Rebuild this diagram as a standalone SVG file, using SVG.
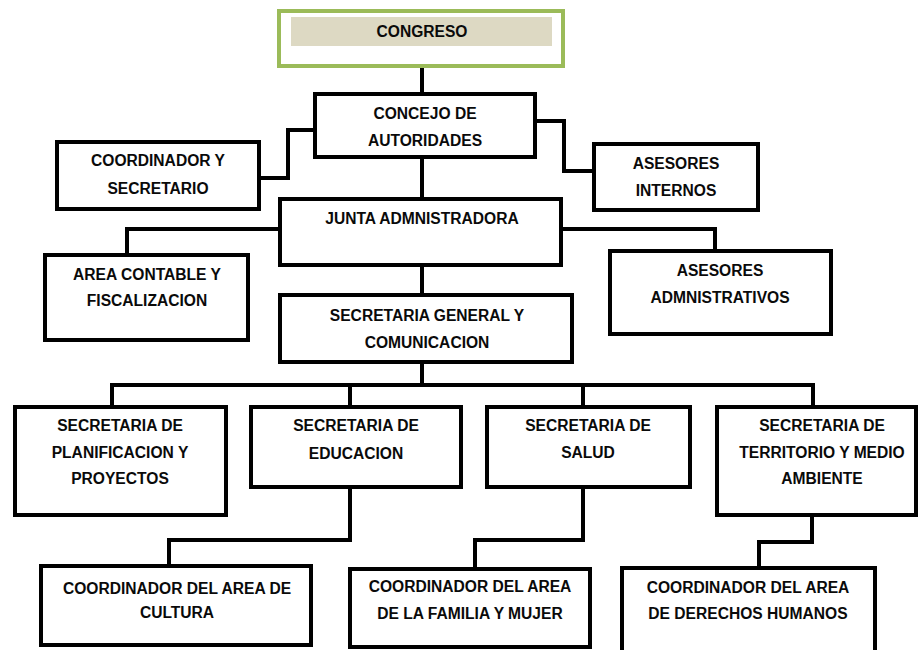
<svg xmlns="http://www.w3.org/2000/svg" width="918" height="650" viewBox="0 0 918 650">
<style>
.box{fill:#fff;stroke:#000;stroke-width:4}
.con{fill:none;stroke:#000;stroke-width:4;stroke-linejoin:miter}
text{font-family:"Liberation Sans",Arial,sans-serif;font-weight:bold;font-size:15.6px;fill:#0a0a0a;text-anchor:middle}
</style>
<rect width="918" height="650" fill="#fff"/>
<g id="connectors">
<path class="con" d="M422 68V94"/>
<path class="con" d="M315 130H288V178H259"/>
<path class="con" d="M535 121H564V171H594" stroke-width="5"/>
<path class="con" d="M422 157V199"/>
<path class="con" d="M280 229H127V255"/>
<path class="con" d="M561 229H715V251"/>
<path class="con" d="M422 265V295"/>
<path class="con" d="M422 362V385"/>
<path class="con" d="M112 407V385H813V407"/>
<path class="con" d="M350 385V407"/>
<path class="con" d="M583 385V407"/>
<path class="con" d="M350 487V540H169V566"/>
<path class="con" d="M583 487V540H475V569"/>
<path class="con" d="M812 515V542H759V568"/>
</g>
<g id="congreso">
<rect x="279" y="11" width="284" height="55" fill="#fff" stroke="#9bbb59" stroke-width="4"/>
<rect x="291" y="17" width="261" height="29" fill="#ddd9c3"/>
<text x="422" y="37">CONGRESO</text>
</g>
<g id="concejo">
<rect class="box" x="315" y="94" width="220" height="63"/>
<text x="425" y="119">CONCEJO DE</text>
<text x="425" y="146">AUTORIDADES</text>
</g>
<g id="coordinador">
<rect class="box" x="57" y="142" width="202" height="67"/>
<text x="158" y="166">COORDINADOR Y</text>
<text x="158" y="194">SECRETARIO</text>
</g>
<g id="asesores-internos">
<rect class="box" x="594" y="144" width="164" height="66"/>
<text x="676" y="169">ASESORES</text>
<text x="676" y="196">INTERNOS</text>
</g>
<g id="junta">
<rect class="box" x="280" y="199" width="281" height="66"/>
<text x="422" y="224">JUNTA ADMNISTRADORA</text>
</g>
<g id="area-contable">
<rect class="box" x="45" y="255" width="203" height="85"/>
<text x="147" y="280">AREA CONTABLE Y</text>
<text x="147" y="306">FISCALIZACION</text>
</g>
<g id="asesores-adm">
<rect class="box" x="610" y="251" width="221" height="83"/>
<text x="720" y="276">ASESORES</text>
<text x="720" y="303">ADMNISTRATIVOS</text>
</g>
<g id="secretaria-general">
<rect class="box" x="280" y="295" width="292" height="67"/>
<text x="427" y="321">SECRETARIA GENERAL Y</text>
<text x="427" y="348">COMUNICACION</text>
</g>
<g id="sec-planificacion">
<rect class="box" x="15" y="407" width="211" height="108"/>
<text x="120" y="431">SECRETARIA DE</text>
<text x="120" y="458">PLANIFICACION Y</text>
<text x="120" y="484">PROYECTOS</text>
</g>
<g id="sec-educacion">
<rect class="box" x="251" y="407" width="210" height="80"/>
<text x="356" y="431">SECRETARIA DE</text>
<text x="356" y="459">EDUCACION</text>
</g>
<g id="sec-salud">
<rect class="box" x="487" y="407" width="203" height="80"/>
<text x="588" y="431">SECRETARIA DE</text>
<text x="588" y="458">SALUD</text>
</g>
<g id="sec-territorio">
<rect class="box" x="717" y="407" width="199" height="108"/>
<text x="822" y="431">SECRETARIA DE</text>
<text x="822" y="458">TERRITORIO Y MEDIO</text>
<text x="822" y="484">AMBIENTE</text>
</g>
<g id="coord-cultura">
<rect class="box" x="41" y="566" width="270" height="79"/>
<text x="177" y="594">COORDINADOR DEL AREA DE</text>
<text x="177" y="618">CULTURA</text>
</g>
<g id="coord-familia">
<rect class="box" x="350" y="569" width="240" height="78"/>
<text x="470" y="592">COORDINADOR DEL AREA</text>
<text x="470" y="619">DE LA FAMILIA Y MUJER</text>
</g>
<g id="coord-ddhh">
<rect class="box" x="622" y="568" width="253" height="90"/>
<text x="748" y="593">COORDINADOR DEL AREA</text>
<text x="748" y="619">DE DERECHOS HUMANOS</text>
</g>
</svg>
